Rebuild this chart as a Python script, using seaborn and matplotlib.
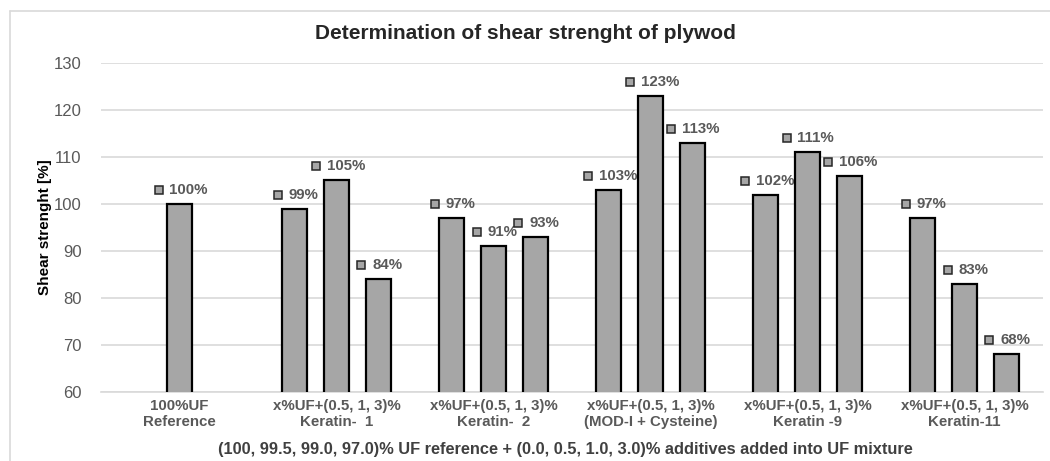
import numpy as np
import pandas as pd
import matplotlib
matplotlib.use("Agg")
import matplotlib.pyplot as plt
import matplotlib.transforms as mtransforms
from matplotlib.lines import Line2D
import seaborn as sns

# data
categories = [
    "100%UF\nReference",
    "x%UF+(0.5, 1, 3)%\nKeratin-  1",
    "x%UF+(0.5, 1, 3)%\nKeratin-  2",
    "x%UF+(0.5, 1, 3)%\n(MOD-I + Cysteine)",
    "x%UF+(0.5, 1, 3)%\nKeratin -9",
    "x%UF+(0.5, 1, 3)%\nKeratin-11",
]
reference = [100]
keratin_1 = [99, 105, 84]
keratin_2 = [97, 91, 93]
mod_cysteine = [103, 123, 113]
keratin_9 = [102, 111, 106]
keratin_11 = [97, 83, 68]
y_ticks = [60, 70, 80, 90, 100, 110, 120, 130]

groups = [reference, keratin_1, keratin_2, mod_cysteine, keratin_9, keratin_11]

# long table, one row per bar; sub-bars spread around the group centre
step = 0.267
rows = []
for i, vals in enumerate(groups):
    n = len(vals)
    for j, v in enumerate(vals):
        rows.append({"pos": i + (j - (n - 1) / 2) * step, "value": v})
df = pd.DataFrame(rows)

sns.set_style("white")
plt.rcParams["font.family"] = ["Liberation Sans", "DejaVu Sans"]

fig = plt.figure(figsize=(10.5, 4.61), dpi=100)
ax = fig.add_axes([101 / 1050, 1 - 392 / 461, 942 / 1050, 329 / 461])

sns.barplot(data=df, x="pos", y="value", native_scale=True, width=0.6,
            color="#a6a6a6", saturation=1, edgecolor="black", linewidth=1.6,
            ax=ax, zorder=3)

ax.set_xlim(-0.5, 5.5)
ax.set_ylim(60, 130)
ax.set_yticks(y_ticks)
ax.set_yticklabels([str(t) for t in y_ticks], color="#595959", fontsize=12)
ax.set_xticks(range(len(categories)))
ax.set_xticklabels(categories, color="#595959", fontsize=10.8, fontweight="bold",
                   linespacing=1.15)
ax.tick_params(axis="x", length=0, pad=5)
ax.tick_params(axis="y", length=0, pad=14)
ax.grid(axis="y", color="#d9d9d9", linewidth=1.2, zorder=0)
for s in ["top", "right", "left"]:
    ax.spines[s].set_visible(False)
ax.spines["bottom"].set_color("#d9d9d9")
ax.spines["bottom"].set_linewidth(1.2)

ax.set_ylabel("Shear strenght [%]", fontsize=11, fontweight="bold", color="black")
ax.yaxis.set_label_coords(-0.052, 0.5)
ax.set_xlabel("(100, 99.5, 99.0, 97.0)% UF reference + (0.0, 0.5, 1.0, 3.0)% additives added into UF mixture",
              fontsize=11.8, fontweight="bold", color="#404040")
ax.xaxis.set_label_coords(0.4926, -0.153)
fig.suptitle("Determination of shear strenght of plywod", fontsize=15,
             fontweight="bold", x=0.5, y=1 - 33 / 461, va="center")

# data labels: small legend key square + percentage, above each bar
for x, v in zip(df["pos"], df["value"]):
    txt = f"{v}%"
    half = 21 if len(txt) == 4 else 17
    mk = mtransforms.offset_copy(ax.transData, fig=fig, x=-half, y=14, units="dots")
    ax.plot([x], [v], marker="s", markersize=5.5, markerfacecolor="#a6a6a6",
            markeredgecolor="#262626", markeredgewidth=1.1, transform=mk,
            zorder=2, clip_on=False)
    tx = mtransforms.offset_copy(ax.transData, fig=fig, x=-half + 11, y=14, units="dots")
    ax.text(x, v, txt, transform=tx, ha="left", va="center", fontsize=10.8,
            fontweight="bold", color="#595959", zorder=2)

# light frame of the chart area (left and top edges visible)
fig.add_artist(Line2D([10 / 1050, 10 / 1050], [0, 1 - 11 / 461],
                      color="#d9d9d9", linewidth=1.2))
fig.add_artist(Line2D([10 / 1050, 1], [1 - 11 / 461, 1 - 11 / 461],
                      color="#d9d9d9", linewidth=1.2))

fig.savefig("out.png", dpi=100)
